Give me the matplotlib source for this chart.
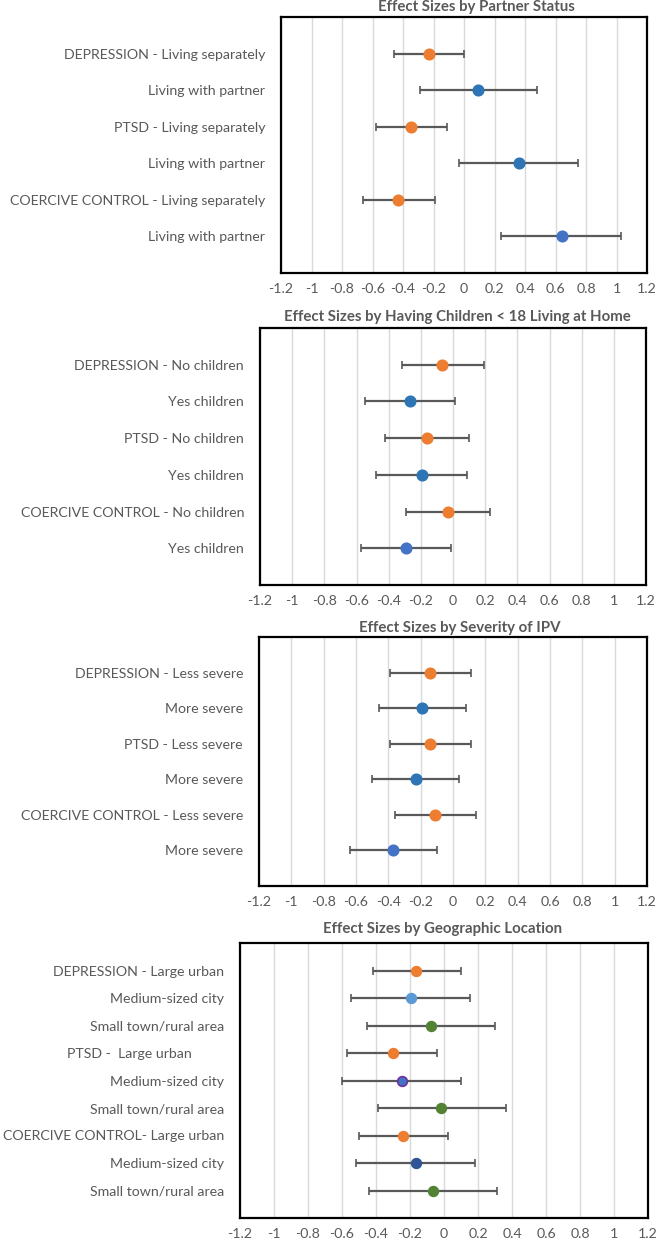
import numpy as np
import matplotlib
matplotlib.use("Agg")
import matplotlib.pyplot as plt

matplotlib.rcParams.update({
    "font.family": ["Lato", "DejaVu Sans"],
    "font.size": 10.2,
    "text.color": "#595959",
    "xtick.color": "#595959",
    "ytick.color": "#595959",
})

# ─── Data ───────────────────────────────────────────────────────────────────

partner_labels = ["DEPRESSION - Living separately", "Living with partner",
                  "PTSD - Living separately", "Living with partner",
                  "COERCIVE CONTROL - Living separately", "Living with partner"]
partner_est = [-0.23, 0.09, -0.35, 0.36, -0.43, 0.64]
partner_lo = [-0.46, -0.29, -0.58, -0.03, -0.66, 0.24]
partner_hi = [0.00, 0.48, -0.11, 0.75, -0.19, 1.03]
partner_colors = ["#ED7D31", "#2E75B6", "#ED7D31", "#2E75B6", "#ED7D31", "#4472C4"]

children_labels = ["DEPRESSION - No children", "Yes children",
                   "PTSD - No children", "Yes children",
                   "COERCIVE CONTROL - No children", "Yes children"]
children_est = [-0.07, -0.27, -0.16, -0.195, -0.03, -0.29]
children_lo = [-0.32, -0.55, -0.42, -0.48, -0.29, -0.57]
children_hi = [0.19, 0.01, 0.10, 0.09, 0.23, -0.01]
children_colors = ["#ED7D31", "#2E75B6", "#ED7D31", "#2E75B6", "#ED7D31", "#4472C4"]

severity_labels = ["DEPRESSION - Less severe", "More severe",
                   "PTSD - Less severe", "More severe",
                   "COERCIVE CONTROL - Less severe", "More severe"]
severity_est = [-0.14, -0.19, -0.14, -0.23, -0.11, -0.37]
severity_lo = [-0.39, -0.46, -0.39, -0.50, -0.36, -0.64]
severity_hi = [0.11, 0.08, 0.11, 0.035, 0.14, -0.10]
severity_colors = ["#ED7D31", "#2E75B6", "#ED7D31", "#2E75B6", "#ED7D31", "#4472C4"]

geo_labels = ["DEPRESSION - Large urban", "Medium-sized city", "Small town/rural area",
              "PTSD -  Large urban         ", "Medium-sized city", "Small town/rural area",
              "COERCIVE CONTROL- Large urban", "Medium-sized city", "Small town/rural area"]
geo_est = [-0.165, -0.195, -0.075, -0.30, -0.25, -0.015, -0.24, -0.165, -0.065]
geo_lo = [-0.42, -0.55, -0.455, -0.57, -0.60, -0.39, -0.50, -0.515, -0.44]
geo_hi = [0.10, 0.15, 0.30, -0.04, 0.10, 0.365, 0.025, 0.185, 0.31]
geo_colors = ["#ED7D31", "#5B9BD5", "#548235", "#ED7D31", "#4472C4", "#548235",
              "#ED7D31", "#2F5597", "#548235"]
geo_edges = ["#ED7D31", "#5B9BD5", "#548235", "#ED7D31", "#7030A0", "#548235",
             "#ED7D31", "#2F5597", "#548235"]

x_ticks = np.round(np.arange(-1.2, 1.21, 0.2), 1)
x_ticklabels = [("%g" % t) if t != 0 else "0" for t in x_ticks]

W, H = 656, 1240
fig = plt.figure(figsize=(W / 100, H / 100), dpi=100)


def px_axes(left, top, right, bottom):
    return fig.add_axes([left / W, 1 - bottom / H, (right - left) / W, (bottom - top) / H])


def forest(ax, labels, est, lo, hi, colors, edges=None, msize=7.5):
    n = len(labels)
    y = np.arange(1, n + 1)
    if edges is None:
        edges = colors
    for yi, e, l, h, c, ec in zip(y, est, lo, hi, colors, edges):
        ax.errorbar(e, yi, xerr=[[e - l], [h - e]], fmt="o", color="#595959",
                    ecolor="#595959", elinewidth=1.6, capsize=3, capthick=1.6,
                    markersize=msize, markerfacecolor=c, markeredgecolor=ec,
                    markeredgewidth=1.2, zorder=3)
    ax.set_ylim(n + 1, 0)
    ax.set_xlim(-1.2, 1.2)
    ax.set_yticks(y)
    ax.set_yticklabels(labels)
    ax.set_xticks(x_ticks)
    ax.set_xticklabels(x_ticklabels)
    ax.tick_params(axis="both", length=0)
    ax.tick_params(axis="y", pad=11.5)
    ax.tick_params(axis="x", pad=7)
    ax.grid(axis="x", color="#D9D9D9", linewidth=1.0, zorder=0)
    ax.set_axisbelow(True)
    for s in ax.spines.values():
        s.set_color("black")
        s.set_linewidth(1.6)


title_kw = dict(ha="center", va="center", fontweight="bold", color="#595959", fontsize=10.8)

ax1 = px_axes(281, 17, 647, 273)
forest(ax1, partner_labels, partner_est, partner_lo, partner_hi, partner_colors)
fig.text(476 / W, 1 - 7 / H, "Effect Sizes by Partner Status", **title_kw)

ax2 = px_axes(260, 328, 646, 585)
forest(ax2, children_labels, children_est, children_lo, children_hi, children_colors)
fig.text(457 / W, 1 - 317 / H, "Effect Sizes by Having Children < 18 Living at Home", **title_kw)

ax3 = px_axes(259, 637, 647, 886)
forest(ax3, severity_labels, severity_est, severity_lo, severity_hi, severity_colors)
fig.text(460 / W, 1 - 628 / H, "Effect Sizes by Severity of IPV", **title_kw)

ax4 = px_axes(240, 943, 648, 1218)
forest(ax4, geo_labels, geo_est, geo_lo, geo_hi, geo_colors, geo_edges, msize=7)
fig.text(443 / W, 1 - 929 / H, "Effect Sizes by Geographic Location", **title_kw)

fig.savefig("out.png", dpi=100, facecolor="white")
